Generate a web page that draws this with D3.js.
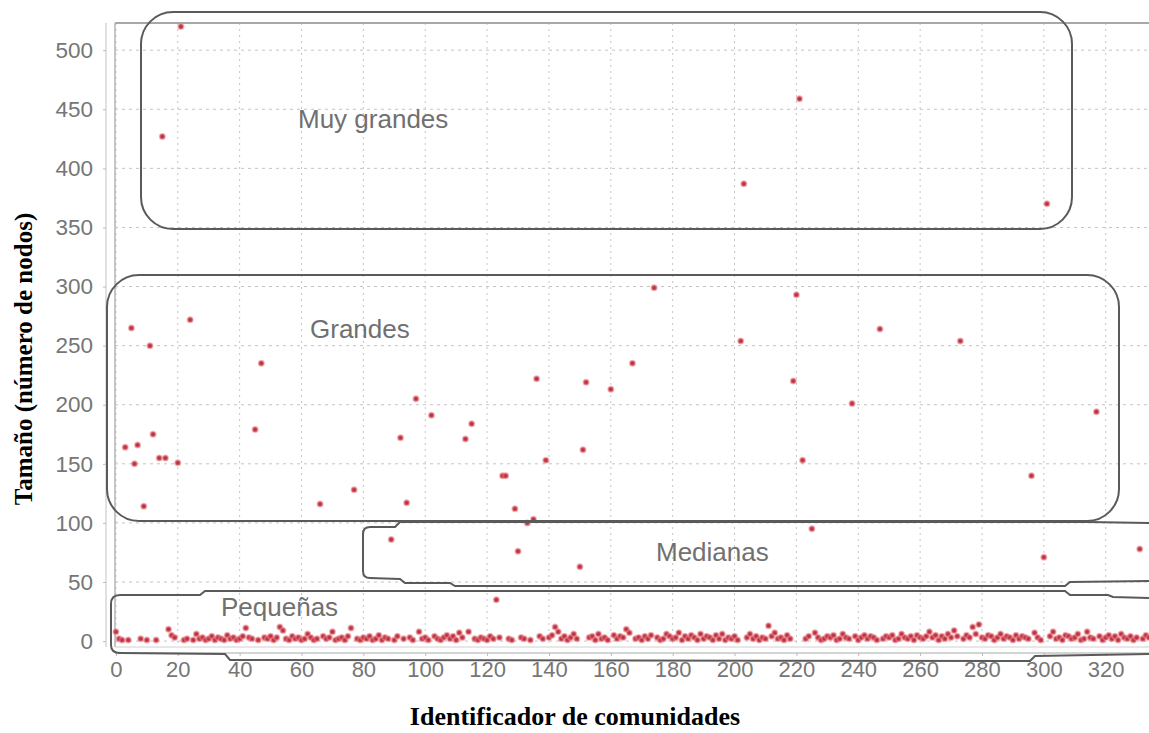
<!DOCTYPE html>
<html>
<head>
<meta charset="utf-8">
<script src="https://cdn.jsdelivr.net/npm/d3@7"></script>
<style>
  html, body { margin: 0; padding: 0; background: #fff; }
  svg { display: block; }
</style>
</head>
<body>
<svg id="chart" width="1149" height="733"></svg>
<script>
// ---------------- DATA ----------------
// Community sizes (number of nodes), indexed by community id.
const sizesIds0to111 = [
  8,2,1,164,1,265,150,166,2,114, 1,250,175,1,155,427,155,10,5,3,
  151,520,1,2,272,1,6,2,3,1, 2,4,1,3,2,1,5,2,3,1,
  2,4,11,3,2,179,1,235,3,2, 4,1,3,12,9,2,1,4,2,3,
  1,2,6,3,1,2,116,4,2,3, 8,1,2,3,1,4,11,128,2,1,
  3,2,4,1,2,5,1,3,2,86, 1,4,172,2,117,3,1,205,8,2,
  3,1,191,4,2,1,3,5,2,4, 1,7
];
const sizesIds112to223 = [
  3,171,8,184,2,1,3,2,
  1,4,2,35,3,140,140,2,1,112, 76,3,2,100,1,103,222,4,2,153,
  3,5,12,8,2,4,1,3,6,2, 63,162,219,3,4,1,6,2,3,1,
  213,5,2,4,3,10,7,235,2,3, 1,4,2,5,299,3,1,2,6,4,
  2,3,7,1,4,2,5,3,1,6, 2,4,3,1,5,2,6,1,3,2,
  4,1,254,387,3,6,2,4,1,3, 2,13,4,7,2,3,1,5,2,220,
  293,459,153,2
];
const sizesIds224to334 = [
  4,95,7,3,1,2,4,3,5,1,2,6,3,2,201,4,
  1,3,5,2,4,3,1,264,2,4, 3,5,1,2,6,3,2,4,1,5,
  3,2,4,8,3,5,1,4,2,6, 3,9,4,254,2,5,3,12,6,14,
  3,2,5,4,1,3,6,2,4,3, 1,5,2,4,3,2,140,7,3,1,
  71,370,4,8,2,3,1,5,4,2, 3,6,1,2,8,3,2,194,4,1,
  3,5,2,4,1,6,3,2,4,1, 3,78,2,5,3
];
const xTicks = [0,20,40,60,80,100,120,140,160,180,200,220,240,260,280,300,320];
const yTicks = [0,50,100,150,200,250,300,350,400,450,500];
const groupLabels = ["Muy grandes", "Grandes", "Medianas", "Pequeñas"];
const xTitle = "Identificador de comunidades";
const yTitle = "Tamaño (número de nodos)";

// ---------------- CHART ----------------
const sizes = sizesIds0to111.concat(sizesIds112to223, sizesIds224to334);
const points = sizes.map((v, i) => ({ id: i, size: v }));

const svg = d3.select("#chart");
const plot = { left: 115, right: 1149, top: 23, bottom: 647 };

const x = d3.scaleLinear().domain([-0.3, 334]).range([plot.left, plot.right]);
const y = d3.scaleLinear().domain([-5, 523]).range([plot.bottom, plot.top]);

// grid
const grid = svg.append("g");
grid.selectAll("line.vg").data(xTicks).join("line")
  .attr("x1", d => x(d)).attr("x2", d => x(d))
  .attr("y1", plot.top).attr("y2", plot.bottom)
  .attr("stroke", "#c4c4c4").attr("stroke-width", 1).attr("stroke-dasharray", "2,4");
grid.selectAll("line.hg").data(yTicks).join("line")
  .attr("x1", plot.left).attr("x2", plot.right)
  .attr("y1", d => y(d)).attr("y2", d => y(d))
  .attr("stroke", "#c4c4c4").attr("stroke-width", 1).attr("stroke-dasharray", "3,4");

// plot frame
svg.append("line").attr("x1", plot.left).attr("x2", plot.right).attr("y1", plot.top).attr("y2", plot.top)
  .attr("stroke", "#a8a8a8").attr("stroke-width", 2);
svg.append("line").attr("x1", plot.left).attr("x2", plot.left).attr("y1", plot.top).attr("y2", plot.bottom)
  .attr("stroke", "#b4b4b4").attr("stroke-width", 1.5);
svg.append("line").attr("x1", plot.left).attr("x2", plot.right).attr("y1", plot.bottom).attr("y2", plot.bottom)
  .attr("stroke", "#cfcfcf").attr("stroke-width", 1);

// axes
const yAxis = d3.axisLeft(y).tickValues(yTicks).tickSize(3).tickPadding(10);
const gy = svg.append("g").attr("transform", "translate(106,0)").call(yAxis);
gy.select(".domain").attr("stroke", "#c2c2c2").attr("d", `M0,${plot.top}V${plot.bottom}`);
gy.selectAll(".tick line").attr("stroke", "#bbb");
gy.selectAll(".tick text").attr("fill", "#767676")
  .style("font-family", "'Liberation Sans', Arial, sans-serif").style("font-size", "22.5px");

const xAxis = d3.axisBottom(x).tickValues(xTicks).tickSize(3).tickPadding(5);
const gx = svg.append("g").attr("transform", "translate(0,653)").call(xAxis);
gx.select(".domain").attr("stroke", "#a8a8a8").attr("d", `M${plot.left},0H${plot.right}`);
gx.selectAll(".tick line").attr("stroke", "#bbb");
gx.selectAll(".tick text").attr("fill", "#767676")
  .style("font-family", "'Liberation Sans', Arial, sans-serif").style("font-size", "22px");

// points
svg.append("g").selectAll("circle").data(points).join("circle")
  .attr("cx", d => x(d.id)).attr("cy", d => y(d.size)).attr("r", 2.5)
  .attr("fill", "#b8323f")
  .attr("stroke", "rgba(232,120,132,0.55)").attr("stroke-width", 2);

// group annotations (hand-drawn outlines)
const ann = svg.append("g").attr("fill", "none").attr("stroke", "#5a5a5a").attr("stroke-width", 2);
ann.append("rect").attr("x", 141).attr("y", 12).attr("width", 931).attr("height", 217).attr("rx", 32).attr("ry", 32);
ann.append("rect").attr("x", 107).attr("y", 275).attr("width", 1012).attr("height", 246).attr("rx", 32).attr("ry", 32);
ann.append("path").attr("d",
  "M1149,523 L1088,522 L400,522 L395,527 L370,527 Q363,527 363,534 L363,571 Q363,578 370,578 L400,579 L405,583 L450,583 L455,586 L1065,586 L1070,582 L1149,581");
ann.append("path").attr("d",
  "M1149,598 L1113,597 L1108,595 L1070,595 L1065,591 L205,591 L200,595 L120,595 Q111,595 111,604 L111,645 Q111,653 120,653 L225,654 L230,660 L1030,661 L1035,656 L1149,654");

const labelPos = [[298, 128], [310, 338], [656, 561], [221, 616]];
svg.append("g").selectAll("text").data(groupLabels).join("text")
  .attr("x", (d, i) => labelPos[i][0]).attr("y", (d, i) => labelPos[i][1])
  .attr("fill", "#707070")
  .style("font-family", "'Liberation Sans', Arial, sans-serif").style("font-size", "26px")
  .text(d => d);

// axis titles
svg.append("text").attr("x", 575).attr("y", 725).attr("text-anchor", "middle")
  .style("font-family", "'Liberation Serif', 'Times New Roman', serif").style("font-weight", "bold")
  .style("font-size", "26px").attr("fill", "#000").text(xTitle);
svg.append("text").attr("transform", "translate(32,359) rotate(-90)").attr("text-anchor", "middle")
  .style("font-family", "'Liberation Serif', 'Times New Roman', serif").style("font-weight", "bold")
  .style("font-size", "25px").attr("fill", "#000").text(yTitle);
</script>
</body>
</html>
